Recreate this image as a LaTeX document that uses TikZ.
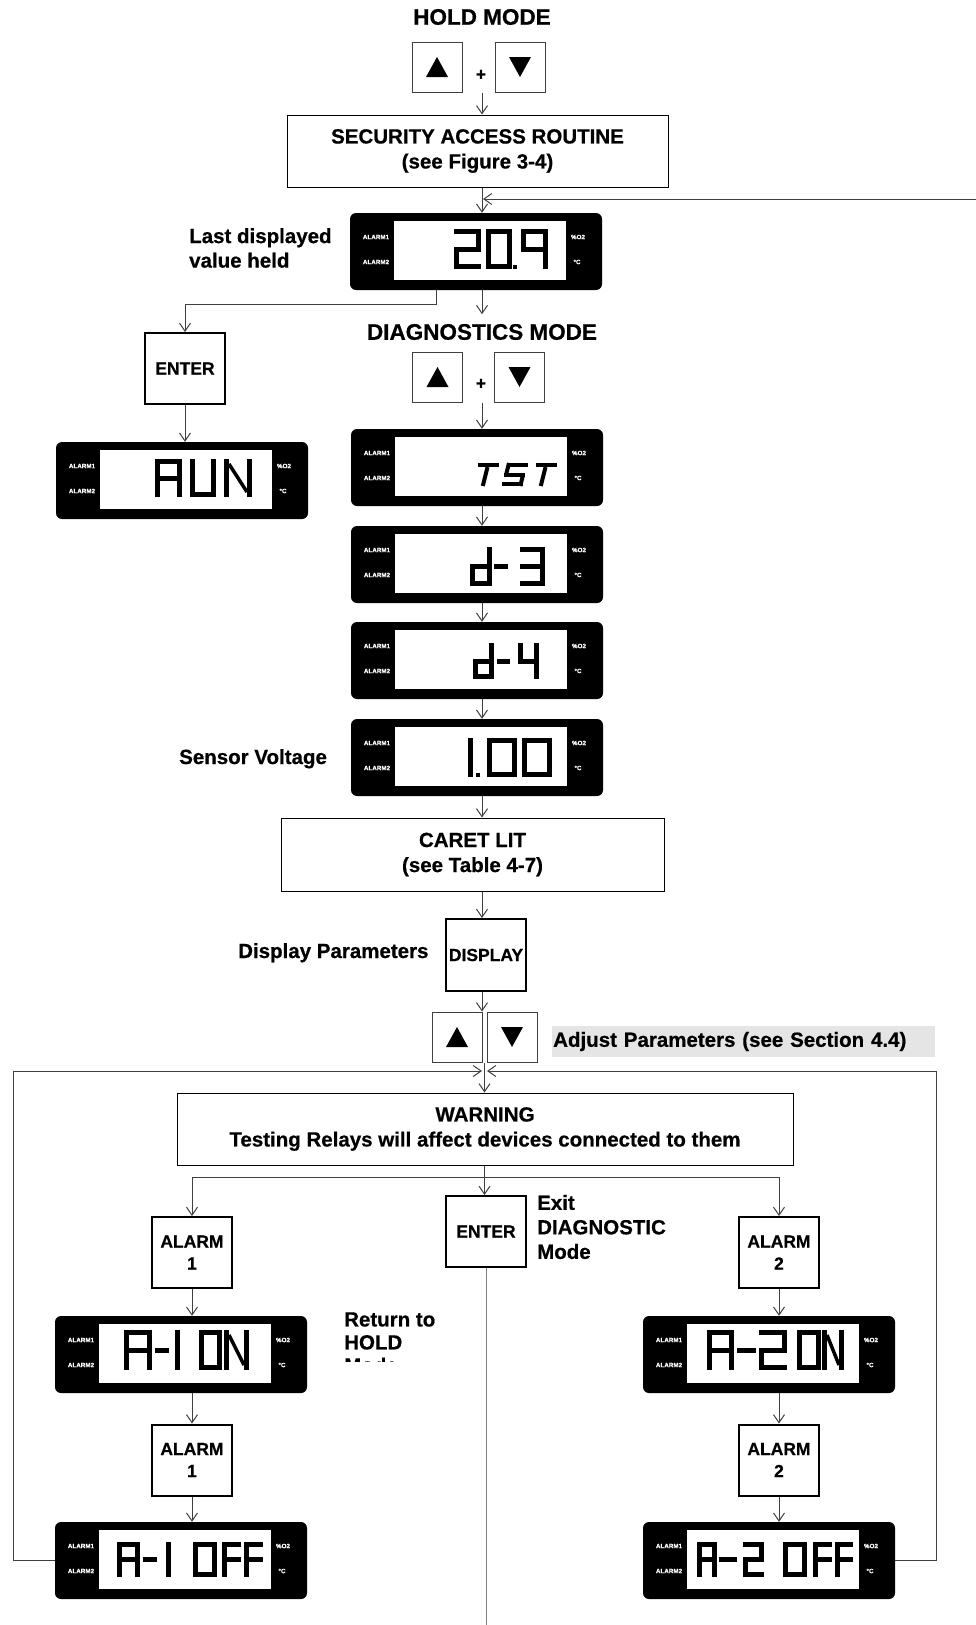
\documentclass[tikz,border=0pt]{standalone}
\usepackage{fontspec}
\setmainfont{Liberation Sans}[BoldFeatures={FakeBold=0.6}]
\usetikzlibrary{arrows.meta,calc}

\newcommand\fs[2]{\fontsize{#1}{#2}\selectfont\bfseries}
\newcommand\sgT{5}
\newcommand\sgW{20}
\newcommand\sgH{38}
\newcommand\sega{\draw[sgl] (0,\sgT/2) -- (\sgW,\sgT/2);}
\newcommand\segb{\draw[sgl] (\sgW-\sgT/2,0) -- (\sgW-\sgT/2,\sgH/2);}
\newcommand\segc{\draw[sgl] (\sgW-\sgT/2,\sgH/2) -- (\sgW-\sgT/2,\sgH);}
\newcommand\segd{\draw[sgl] (0,\sgH-\sgT/2) -- (\sgW,\sgH-\sgT/2);}
\newcommand\sege{\draw[sgl] (\sgT/2,\sgH/2) -- (\sgT/2,\sgH);}
\newcommand\segf{\draw[sgl] (\sgT/2,0) -- (\sgT/2,\sgH/2);}
\newcommand\segg{\draw[sgl] (0,\sgH/2) -- (\sgW,\sgH/2);}
\newcommand\segn{\draw[sgl,line width=3.5pt] (\sgT,\sgT) -- (\sgW-\sgT,\sgH-\sgT);}
\newcommand\segt{\draw[sgl] (\sgW/2,\sgT) -- (\sgW/2,\sgH);}
\newcommand\glyph[5]{%
  \begin{scope}[shift={(#1,#2)}]
    \renewcommand\sgW{#3}\renewcommand\sgH{#4}%
    \foreach \s in {#5}{\csname seg\s\endcsname}
  \end{scope}}
\newcommand\lcd[3]{%
  \node[lcdbox] (#1) at ({#2+126},{#3+38.5}) {};
  \fill[white] ({#2+44},{#3+8}) rectangle ({#2+216},{#3+67});
  \node[lcdlab] (#1-a1) at ({#2+26},{#3+24}) {ALARM1};
  \node[lcdlab] (#1-a2) at ({#2+26},{#3+49}) {ALARM2};
  \node[lcdlab] (#1-o2) at ({#2+228},{#3+24}) {\%O2};
  \node[lcdlab] (#1-dc) at ({#2+227},{#3+49}) {°C};
}

\begin{document}
\begin{tikzpicture}[x=1pt,y=-1pt,
  every node/.style={font=\bfseries},
  hdr/.style={font=\fs{22.5}{27}, inner sep=0},
  txt/.style={font=\fs{20.5}{24.5}, align=left, inner sep=0},
  boxtxt/.style={draw, line width=1pt, font=\fs{20.5}{25}, align=center, inner sep=0},
  keybox/.style={draw, line width=2pt, font=\fs{17.5}{22}, align=center, inner sep=0, minimum width=80, minimum height=71},
  btn/.style={draw=black!75, line width=1pt, minimum width=50, minimum height=50, inner sep=0},
  lcdbox/.style={fill=black, rounded corners=6pt, minimum width=252, minimum height=77, inner sep=0},
  lcdlab/.style={text=white, font=\fs{6.3}{7}, inner sep=0},
  sgl/.style={line width=\sgT pt, black},
  conn/.style={line width=1pt, draw=black!75},
  arr/.style={conn, -{Straight Barb[length=8pt,width=11pt]}}]
\useasboundingbox (0,0) rectangle (976,1625);
\fill[white] (0,0) rectangle (976,1625);

% column coordinates
\coordinate (M) at (482,0);
\coordinate (J) at (484.5,0);
\coordinate (loopR) at (976,199);
\coordinate (loopTip) at (483,199);
\coordinate (LT) at (13,1071);
\coordinate (RT) at (936,1071);
\coordinate (JL) at (482,1071);
\coordinate (JR) at (487,1071);
\coordinate (BR) at (484.5,1177);
\coordinate (BOT) at (0,1625);

% ---------- top ----------
\node[hdr] (hold) at (482,17) {HOLD MODE};
\node[btn] (up1) at (437,67) {};
\fill (up1.center) ++(-11,10) -- ++(22,0) -- ++(-11,-20) -- cycle;
\node[btn] (dn1) at (520,67) {};
\fill (dn1.center) ++(-11,-10) -- ++(22,0) -- ++(-11,20) -- cycle;
\node[font=\fs{17.5}{20}, inner sep=0] (plus1) at (481,75) {+};

\node[boxtxt, minimum width=381, minimum height=72] (sec) at (477.5,151) {SECURITY ACCESS ROUTINE\\(see Figure 3-4)};

\lcd{d0}{350}{213}
\glyph{454}{229}{27}{40}{a,b,g,e,d}
\glyph{486}{229}{26}{40}{a,b,c,d,e,f}
\fill (513,265) rectangle ++(4,4);
\glyph{521}{229}{27}{40}{a,b,c,f,g}
\node[txt, anchor=west] (lastd) at (189,248) {Last displayed\\value held};

% ---------- left branch ----------
\node[keybox] (enter1) at (185,368.5) {ENTER};
\lcd{run}{56}{442}
\glyph{155}{459}{27}{38}{a,b,c,e,f,g}
\glyph{190}{459}{26}{38}{b,c,d,e,f}
\glyph{224}{459}{28}{38}{b,c,e,f,n}

% ---------- diagnostics ----------
\node[hdr] (diag) at (482,332) {DIAGNOSTICS MODE};
\node[btn] (up2) at (437.5,377) {};
\fill (up2.center) ++(-11,10) -- ++(22,0) -- ++(-11,-20) -- cycle;
\node[btn] (dn2) at (519.5,377) {};
\fill (dn2.center) ++(-11,-10) -- ++(22,0) -- ++(-11,20) -- cycle;
\node[font=\fs{17.5}{20}, inner sep=0] (plus2) at (481,384) {+};

\lcd{tst}{351}{429}
\begin{scope}[shift={(478,463)},xslant=0.25]
  \renewcommand\sgT{4}
  \glyph{0}{0}{21}{23}{a,t}
  \glyph{29}{0}{21}{23}{a,f,g,c,d}
  \glyph{58}{0}{21}{23}{a,t}
\end{scope}

\lcd{d3}{351}{526}
\glyph{470}{547}{22}{39}{b,c,d,e,g}
\glyph{494}{547}{14}{39}{g}
\glyph{520}{547}{25}{39}{a,b,c,d,g}

\lcd{d4}{351}{622}
\glyph{473}{643}{21}{36}{b,c,d,e,g}
\glyph{497}{643}{13}{36}{g}
\glyph{518}{643}{21}{36}{b,c,f,g}

\lcd{v1}{351}{719}
\glyph{446}{738}{27}{39}{b,c}
\fill (476,773) rectangle ++(4,4);
\glyph{487}{738}{30}{39}{a,b,c,d,e,f}
\glyph{522}{738}{30}{39}{a,b,c,d,e,f}
\node[txt, anchor=base west] (sensor) at (179,764) {Sensor Voltage};

\node[boxtxt, minimum width=383, minimum height=73] (caret) at (472.5,854.5) {CARET LIT\\(see Table 4-7)};
\node[keybox, minimum height=72] (disp) at (486,955) {DISPLAY};
\node[txt, anchor=base west] (dpar) at (238,958) {Display Parameters};

\node[btn] (up3) at (457,1037) {};
\fill (up3.center) ++(-11,10) -- ++(22,0) -- ++(-11,-20) -- cycle;
\node[btn] (dn3) at (512,1037) {};
\fill (dn3.center) ++(-11,-10) -- ++(22,0) -- ++(-11,20) -- cycle;
\node[fill=black!10, anchor=west, minimum width=383, minimum height=31, inner xsep=1pt, inner ysep=0, text width=381pt, align=left, font=\fs{20.5}{24.5}] (adj) at (552,1041.5) {Adjust Parameters (see Section 4.4)};

% ---------- warning & alarms ----------
\node[boxtxt, minimum width=616, minimum height=72] (warn) at (485,1129) {WARNING\\Testing Relays will affect devices connected to them};
\node[keybox] (enter2) at (486,1231.5) {ENTER};
\node[txt, anchor=west, font=\fs{20.5}{24.5}] (exit) at (537,1227) {Exit\\DIAGNOSTIC\\Mode};

\node[keybox] (al1) at (192,1252.5) {ALARM\\1};
\node[keybox] (al1b) at (192,1460) {ALARM\\1};
\node[keybox] (al2) at (779,1252.5) {ALARM\\2};
\node[keybox] (al2b) at (779,1460) {ALARM\\2};

\begin{scope}
  \clip (330,1295) rectangle (480,1361);
  \node[txt, anchor=west, font=\fs{20.5}{23}] (ret) at (344,1342.5) {Return to\\HOLD\\Mode};
\end{scope}

\lcd{a1on}{55}{1316}
\glyph{124}{1330}{28}{40}{a,b,c,e,f,g}
\glyph{155}{1330}{14}{40}{g}
\glyph{152}{1330}{28}{40}{b,c}
\glyph{199}{1330}{23}{40}{a,b,c,d,e,f}
\glyph{224}{1330}{25}{40}{b,c,e,f,n}

\lcd{a1off}{55}{1522}
\glyph{117}{1542}{23}{35}{a,b,c,e,f,g}
\glyph{143}{1542}{14}{35}{g}
\glyph{148}{1542}{23}{35}{b,c}
\glyph{193}{1542}{24}{35}{a,b,c,d,e,f}
\glyph{222}{1542}{19}{35}{a,e,f,g}
\glyph{244}{1542}{19}{35}{a,e,f,g}

\lcd{a2on}{643}{1316}
\glyph{707}{1330}{27}{40}{a,b,c,e,f,g}
\glyph{737}{1330}{19}{40}{g}
\glyph{759}{1330}{28}{40}{a,b,g,e,d}
\glyph{797}{1330}{24}{40}{a,b,c,d,e,f}
\glyph{822}{1330}{22}{40}{b,c,e,f,n}

\lcd{a2off}{643}{1522}
\glyph{697}{1542}{20}{35}{a,b,c,e,f,g}
\glyph{719}{1542}{18}{35}{g}
\glyph{743}{1542}{21}{35}{a,b,g,e,d}
\glyph{783}{1542}{24}{35}{a,b,c,d,e,f}
\glyph{813}{1542}{19}{35}{a,e,f,g}
\glyph{835}{1542}{18}{35}{a,e,f,g}

% ---------- connectors ----------
\draw[arr] (M |- up1.south) -- (M |- sec.north);
\draw[arr] (M |- sec.south) -- (M |- d0.north);
\draw[arr] (loopR) -- (loopTip);
\draw[arr] ([xshift=-40pt]d0.south) -- ++(0,14) -| (enter1.north);
\draw[arr] (M |- d0.south) -- ++(0,24);
\draw[arr] (enter1.south) -- (enter1.south |- run.north);
\draw[arr] (M |- up2.south) -- (M |- tst.north);
\draw[arr] (M |- tst.south) -- (M |- d3.north);
\draw[arr] (M |- d3.south) -- (M |- d4.north);
\draw[arr] (M |- d4.south) -- (M |- v1.north);
\draw[arr] (M |- v1.south) -- (M |- caret.north);
\draw[arr] (M |- caret.south) -- (M |- disp.north);
\draw[arr] (M |- disp.south) -- (M |- up3.north);
\draw[arr] (J |- up3.south) -- (J |- warn.north);
\draw[arr] (a1off.west) -| (LT) -- (JL);
\draw[arr] (a2off.east) -| (RT) -- (JR);
\draw[arr] (J |- warn.south) -- (J |- enter2.north);
\draw[arr] (BR) -| (al1.north);
\draw[arr] (BR) -| (al2.north);
\draw[conn, draw=black!50] (enter2.south) -- (enter2.south |- BOT);
\draw[arr] (al1.south) -- (al1.south |- a1on.north);
\draw[arr] (al1.south |- a1on.south) -- (al1b.north);
\draw[arr] (al1b.south) -- (al1b.south |- a1off.north);
\draw[arr] (al2.south) -- (al2.south |- a2on.north);
\draw[arr] (al2.south |- a2on.south) -- (al2b.north);
\draw[arr] (al2b.south) -- (al2b.south |- a2off.north);
\end{tikzpicture}
\end{document}
